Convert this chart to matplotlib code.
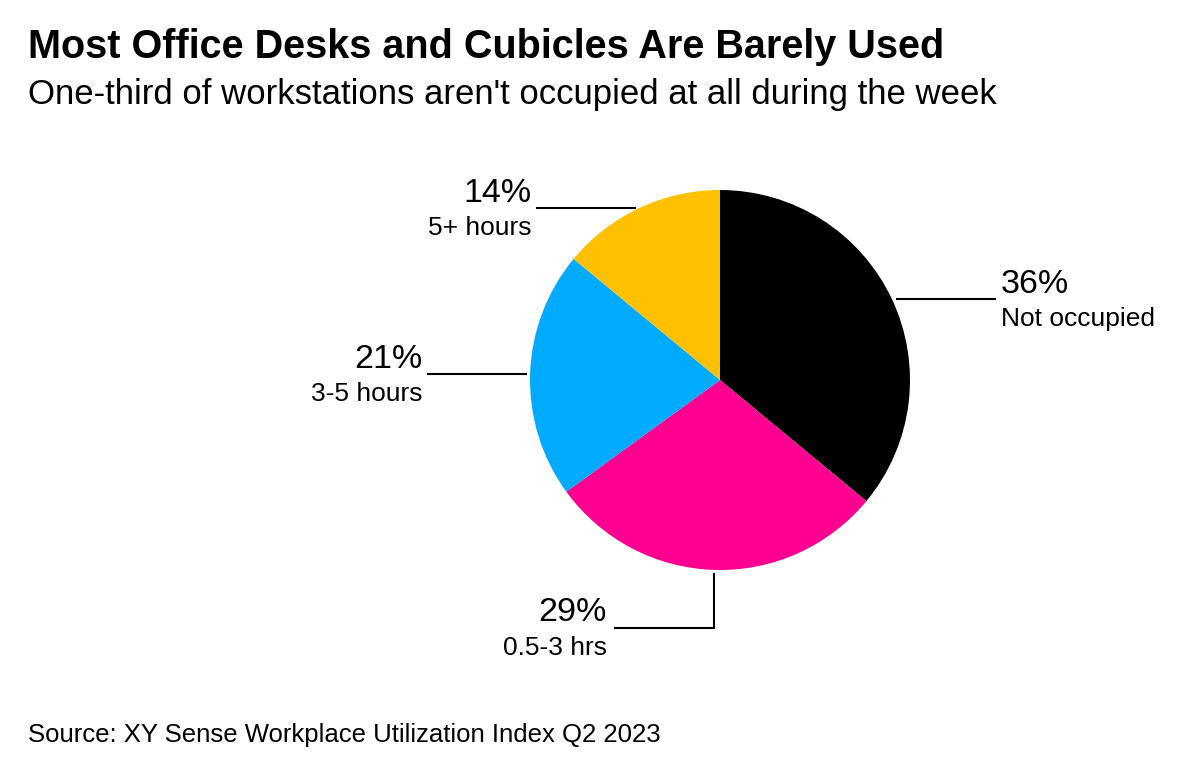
import numpy as np
import matplotlib
matplotlib.use("Agg")
import matplotlib.pyplot as plt

plt.rcParams['font.family'] = ['Liberation Sans', 'DejaVu Sans']

categories = ["Not occupied", "0.5-3 hrs", "3-5 hours", "5+ hours"]
values = [36, 29, 21, 14]
colors = ["#000000", "#FF0090", "#00AAFF", "#FFC000"]

title = "Most Office Desks and Cubicles Are Barely Used"
subtitle = "One-third of workstations aren't occupied at all during the week"
source = "Source: XY Sense Workplace Utilization Index Q2 2023"

W, H = 1178, 770
fig = plt.figure(figsize=(W / 100, H / 100), dpi=100)
ax = fig.add_axes([0, 0, 1, 1])

cx, cy, r = 720, H - 380, 190
wedges, _ = ax.pie(values, colors=colors, startangle=90, counterclock=False,
                   center=(cx, cy), radius=r, wedgeprops=dict(linewidth=0))
ax.set_xlim(0, W)
ax.set_ylim(0, H)
ax.set_aspect('equal', adjustable='box')
ax.axis('off')

big = 24.5
small = 19
line_len = 100
for w, v, cat in zip(wedges, values, categories):
    mid = np.deg2rad((w.theta1 + w.theta2) / 2)
    ax_ = cx + r * np.cos(mid)
    ay_ = cy + r * np.sin(mid)
    if abs(np.sin(mid)) > 0.95:
        # bottom wedge: vertical then horizontal
        y2 = ay_ - 58
        ax.plot([ax_, ax_, ax_ - line_len], [ay_ - 3, y2, y2], color='black', lw=1.5,
                solid_capstyle='butt', solid_joinstyle='miter')
        tx = ax_ - line_len - 7
        ax.text(tx, y2 + 7, f"{v}%", ha='right', va='baseline', fontsize=big)
        ax.text(tx, y2 - 27, cat, ha='right', va='baseline', fontsize=small)
    elif np.cos(mid) > 0:
        x0 = ax_ + 4
        ax.plot([x0, x0 + line_len], [ay_, ay_], color='black', lw=1.5,
                solid_capstyle='butt')
        tx = x0 + line_len + 5
        ax.text(tx, ay_ + 6, f"{v}%", ha='left', va='baseline', fontsize=big)
        ax.text(tx, ay_ - 27, cat, ha='left', va='baseline', fontsize=small)
    else:
        x0 = ax_ - 3
        ax.plot([x0, x0 - line_len], [ay_, ay_], color='black', lw=1.5,
                solid_capstyle='butt')
        tx = x0 - line_len - 5
        ax.text(tx, ay_ + 6, f"{v}%", ha='right', va='baseline', fontsize=big)
        ax.text(tx, ay_ - 27, cat, ha='right', va='baseline', fontsize=small)

ax.text(28, H - 58, title, ha='left', va='baseline', fontsize=28.5, fontweight='bold')
ax.text(28, H - 104, subtitle, ha='left', va='baseline', fontsize=25)
ax.text(28, H - 742, source, ha='left', va='baseline', fontsize=18.5)

fig.savefig("out.png", dpi=100, facecolor='white')
